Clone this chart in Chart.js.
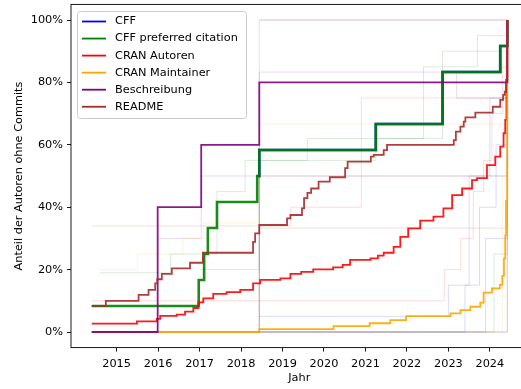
<!DOCTYPE html>
<html>
<head>
<meta charset="utf-8">
<script src="https://cdn.jsdelivr.net/npm/chart.js@4.4.1/dist/chart.umd.min.js"></script>
<style>
  html, body { margin: 0; padding: 0; background: #fff; overflow: hidden; }
  canvas { display: block; }
</style>
</head>
<body>
<canvas id="authorChart" width="529" height="389"></canvas>
<script>
// axis ticks
const yearTicks = [2015, 2016, 2017, 2018, 2019, 2020, 2021, 2022, 2023, 2024];
const shareTicks = [0, 0.2, 0.4, 0.6, 0.8, 1.0];

const seriesNames = ['CFF', 'CFF preferred citation', 'CRAN Autoren', 'CRAN Maintainer', 'Beschreibung', 'README'];
const seriesColors = ['#0000ff', '#008000', '#ff0000', '#ffa500', '#800080', '#a52a2a'];

// share of authors without commits, value holds from the given date on
const cffYears = [2018.39, 2018.44, 2021.25, 2022.86, 2024.25, 2024.42];
const cffShare = [0.5, 0.5833, 0.6667, 0.8333, 0.9167, 1.0];

const citationYears = [2014.40, 2016.98, 2017.11, 2017.20, 2017.42, 2018.39, 2018.44, 2021.25, 2022.86, 2024.25, 2024.42];
const citationShare = [0.0833, 0.1667, 0.25, 0.3333, 0.4167, 0.5, 0.5833, 0.6667, 0.8333, 0.9167, 1.0];

const cranAuthorYears = [2014.40, 2015.49, 2015.97, 2016.05, 2016.45, 2016.65, 2016.85, 2016.97, 2017.09, 2017.33,
  2017.65, 2017.98, 2018.29, 2018.46, 2018.95, 2019.19, 2019.45, 2019.74, 2020.22, 2020.45, 2020.63, 2021.12,
  2021.30, 2021.44, 2021.68, 2021.84, 2022.03, 2022.32, 2022.64, 2022.88, 2023.09, 2023.33, 2023.57, 2023.69,
  2023.93, 2024.13, 2024.25, 2024.33, 2024.37, 2024.40, 2024.42];
const cranAuthorShare = [0.027, 0.034, 0.042, 0.052, 0.056, 0.065, 0.077, 0.095, 0.108, 0.122,
  0.128, 0.135, 0.156, 0.167, 0.172, 0.186, 0.193, 0.201, 0.207, 0.215, 0.231, 0.236,
  0.245, 0.254, 0.273, 0.305, 0.332, 0.357, 0.37, 0.396, 0.439, 0.46, 0.487, 0.493,
  0.535, 0.562, 0.594, 0.637, 0.68, 0.8, 1.0];

const cranMaintYears = [2014.40, 2018.44, 2020.23, 2021.10, 2021.60, 2021.98, 2023.05, 2023.29, 2023.53, 2023.77,
  2023.85, 2024.05, 2024.24, 2024.30, 2024.34, 2024.37, 2024.39, 2024.42];
const cranMaintShare = [0, 0.009, 0.019, 0.028, 0.038, 0.051, 0.06, 0.07, 0.081, 0.094,
  0.126, 0.14, 0.151, 0.18, 0.235, 0.31, 0.42, 1.0];

const descYears = [2014.40, 2015.99, 2017.04, 2018.44, 2024.42];
const descShare = [0, 0.4, 0.6, 0.8, 1.0];

const readmeYears = [2014.40, 2014.74, 2015.53, 2015.77, 2015.93, 2015.98, 2016.09, 2016.33, 2016.77, 2017.08,
  2018.29, 2018.34, 2018.44, 2019.11, 2019.19, 2019.47, 2019.52, 2019.60, 2019.69, 2019.87, 2020.14, 2020.51,
  2020.57, 2021.13, 2021.20, 2021.44, 2021.52, 2023.13, 2023.18, 2023.29, 2023.37, 2023.41, 2023.65, 2024.07,
  2024.25, 2024.32, 2024.36, 2024.39, 2024.42];
const readmeShare = [0.084, 0.100, 0.119, 0.135, 0.156, 0.169, 0.186, 0.204, 0.222, 0.254,
  0.289, 0.316, 0.343, 0.364, 0.375, 0.396, 0.429, 0.446, 0.46, 0.482, 0.496, 0.525,
  0.546, 0.562, 0.568, 0.583, 0.60, 0.615, 0.642, 0.658, 0.674, 0.688, 0.703, 0.722,
  0.744, 0.76, 0.77, 0.808, 1.0];

// single packages, drawn faintly behind the totals
const projectYears = [
  [2014.40, 2018.44, 2024.42],
  [2014.40, 2018.44, 2024.42],
  [2014.40, 2018.44, 2024.42],
  [2014.40, 2018.44, 2024.42],
  [2014.40, 2024.42],
  [2014.40, 2024.30, 2024.42],
  [2014.40, 2023.90, 2024.42],
  [2014.40, 2024.10, 2024.42],
  [2014.40, 2022.90, 2023.30, 2023.60, 2023.85, 2024.05, 2024.30, 2024.42],
  [2018.44, 2023.00, 2023.50, 2024.00, 2024.42],
  [2014.60, 2016.30, 2017.42, 2018.10, 2019.60, 2022.40, 2023.70, 2024.42],
  [2014.40, 2019.20, 2020.90, 2024.42],
  [2014.60, 2015.50, 2016.60, 2017.10, 2018.44, 2024.42],
  [2016.00, 2017.04, 2018.44, 2023.20, 2024.42],
  [2017.00, 2018.44, 2021.25, 2022.86, 2024.42],
  [2014.40, 2023.40, 2023.75, 2024.15, 2024.42],
  [2018.44, 2024.42],
  [2018.44, 2024.42]
];
const projectShare = [
  [0, 1, 1],
  [0, 0.5, 1],
  [0, 0.5, 1],
  [0, 0.333, 1],
  [0, 1],
  [0, 0.5, 1],
  [0, 0.3, 1],
  [0, 0.25, 1],
  [0.1, 0.2, 0.3, 0.45, 0.55, 0.7, 0.85, 1],
  [0.05, 0.15, 0.5, 0.75, 1],
  [0.19, 0.25, 0.45, 0.55, 0.62, 0.85, 0.95, 1],
  [0.34, 0.4, 0.75, 1],
  [0.2, 0.25, 0.3, 0.35, 0.667, 1],
  [0.3, 0.5, 0.833, 0.75, 1],
  [0.2, 0.55, 0.62, 0.9, 1],
  [0, 0.15, 0.4, 0.6, 1],
  [0, 1],
  [1, 1]
];
const projectSeries = [5, 5, 4, 5, 5, 3, 0, 1, 2, 0, 1, 2, 3, 4, 1, 0, 5, 4];

function toPoints(xs, ys) {
  return xs.map((x, i) => ({ x: x, y: ys[i] }));
}

function fade(hex, alpha) {
  const n = parseInt(hex.slice(1), 16);
  return `rgba(${n >> 16}, ${(n >> 8) & 255}, ${n & 255}, ${alpha})`;
}

const mainSeries = [
  [cffYears, cffShare],
  [citationYears, citationShare],
  [cranAuthorYears, cranAuthorShare],
  [cranMaintYears, cranMaintShare],
  [descYears, descShare],
  [readmeYears, readmeShare]
];

const datasets = mainSeries.map(([xs, ys], i) => ({
  label: seriesNames[i],
  data: toPoints(xs, ys),
  borderColor: fade(seriesColors[i], 0.9),
  borderWidth: i <= 1 ? 2.6 : 1.8,
  stepped: true,
  pointRadius: 0,
  fill: false,
  order: 6 - i
}));

projectYears.forEach((xs, i) => {
  datasets.push({
    label: '',
    data: toPoints(xs, projectShare[i]),
    borderColor: fade(seriesColors[projectSeries[i]], 0.15),
    borderWidth: 1,
    stepped: true,
    pointRadius: 0,
    fill: false,
    order: 10
  });
});

// black frame around the plot area
const frame = {
  id: 'frame',
  afterDatasetsDraw(chart) {
    const { ctx, chartArea: a } = chart;
    ctx.save();
    ctx.strokeStyle = '#000';
    ctx.lineWidth = 0.9;
    ctx.strokeRect(a.left, a.top, a.right - a.left, a.bottom - a.top);
    ctx.restore();
  }
};

// legend box in the upper left corner of the plot
const legendBox = {
  id: 'legendBox',
  afterDraw(chart) {
    const ctx = chart.ctx;
    const items = chart.data.datasets.filter(d => d.label);
    ctx.save();
    ctx.beginPath();
    ctx.roundRect(77.5, 11.5, 169, 107, 3);
    ctx.fillStyle = 'rgba(255, 255, 255, 0.8)';
    ctx.fill();
    ctx.strokeStyle = '#cccccc';
    ctx.lineWidth = 1;
    ctx.stroke();
    ctx.font = '11.3px "DejaVu Sans"';
    ctx.textBaseline = 'middle';
    ctx.fillStyle = '#000';
    items.forEach((d, i) => {
      const y = 21.5 + i * 17.05;
      ctx.beginPath();
      ctx.moveTo(82, y);
      ctx.lineTo(106, y);
      ctx.strokeStyle = seriesColors[i];
      ctx.lineWidth = 1.8;
      ctx.stroke();
      ctx.fillText(d.label, 115, y);
    });
    ctx.restore();
  }
};

Chart.defaults.font.family = '"DejaVu Sans", sans-serif';
Chart.defaults.font.size = 11.3;
Chart.defaults.color = '#000';

new Chart(document.getElementById('authorChart'), {
  type: 'line',
  data: { datasets: datasets },
  options: {
    responsive: false,
    animation: false,
    devicePixelRatio: 1,
    layout: { padding: { top: 4.4, right: 1.4, left: 0, bottom: 0 } },
    plugins: {
      legend: { display: false },
      tooltip: { enabled: false }
    },
    scales: {
      x: {
        type: 'linear',
        min: 2013.9,
        max: 2024.91,
        afterBuildTicks: s => { s.ticks = yearTicks.map(v => ({ value: v })); },
        afterFit: s => { s.height = 41.4; s.paddingLeft = 0; s.paddingRight = 0; },
        ticks: { callback: v => String(v), autoSkip: false, maxRotation: 0, padding: 6 },
        grid: { drawOnChartArea: false, tickLength: 4, color: '#000', lineWidth: 0.9 },
        border: { display: false },
        title: { display: true, text: 'Jahr', padding: { top: 0, bottom: 4 } }
      },
      y: {
        type: 'linear',
        min: -0.05,
        max: 1.05,
        afterBuildTicks: s => { s.ticks = shareTicks.map(v => ({ value: v })); },
        afterFit: s => { s.width = 71; s.paddingTop = 0; s.paddingBottom = 0; },
        ticks: { callback: v => Math.round(v * 100) + '%', padding: 4 },
        grid: { drawOnChartArea: false, tickLength: 4, color: '#000', lineWidth: 0.9 },
        border: { display: false },
        title: { display: true, text: 'Anteil der Autoren ohne Commits', padding: { top: 12 } }
      }
    }
  },
  plugins: [frame, legendBox]
});
</script>
</body>
</html>
